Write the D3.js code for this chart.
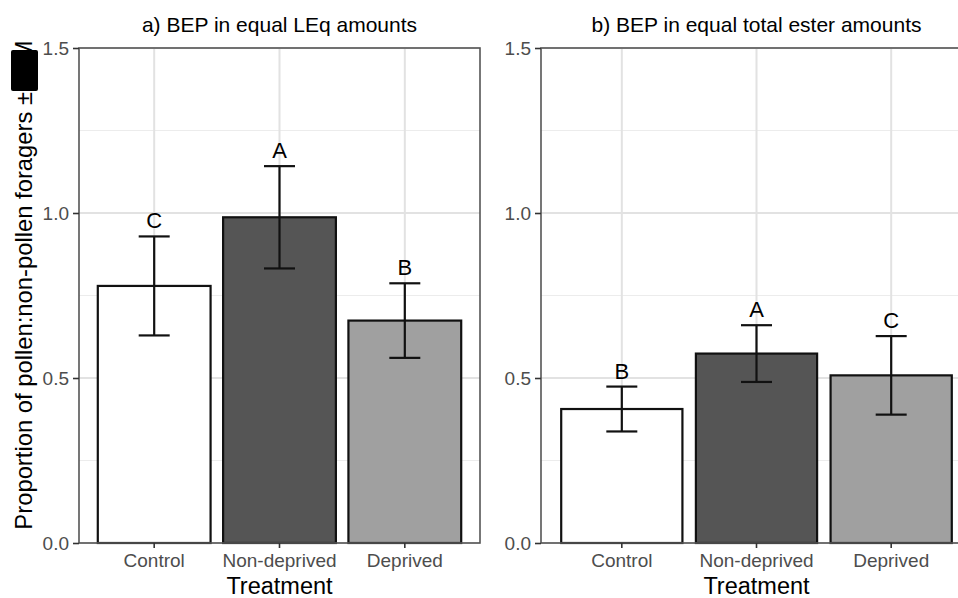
<!DOCTYPE html>
<html>
<head>
<meta charset="utf-8">
<script src="https://cdn.jsdelivr.net/npm/d3@7"></script>
<style>
  html, body { margin: 0; padding: 0; background: #fff; }
  svg { display: block; font-family: "Liberation Sans", Arial, Helvetica, sans-serif; }
</style>
</head>
<body>
<svg id="chart" width="958" height="598"></svg>
<script>
// Treatment groups and mean proportions (± SEM) for each panel
const categories = ["Control", "Non-deprived", "Deprived"];
const fills = ["#ffffff", "#555555", "#a0a0a0"];

const titleA = "a) BEP in equal LEq amounts";
const meanA = [0.779, 0.987, 0.674];
const semA = [0.150, 0.155, 0.113];
const lettersA = ["C", "A", "B"];

const titleB = "b) BEP in equal total ester amounts";
const meanB = [0.406, 0.574, 0.508];
const semB = [0.068, 0.086, 0.119];
const lettersB = ["B", "A", "C"];

const yMajor = [0, 0.5, 1.0, 1.5];
const yMinor = [0.25, 0.75, 1.25];

const svg = d3.select("#chart");
svg.append("rect").attr("width", 958).attr("height", 598).attr("fill", "#fff");

const plotTop = 48, plotBottom = 543;
const y = d3.scaleLinear().domain([0, 1.5]).range([plotBottom, plotTop]);

function panel(x0, x1, title, means, sems, letters) {
  const x = d3.scaleBand().domain(categories).range([x0, x1])
    .paddingInner(0.1).paddingOuter(0.15);
  const g = svg.append("g");
  const data = categories.map((c, i) => ({ c, m: means[i], s: sems[i], l: letters[i], f: fills[i] }));

  // grid
  g.selectAll(".ymin").data(yMinor).join("line")
    .attr("x1", x0).attr("x2", x1).attr("y1", d => y(d)).attr("y2", d => y(d))
    .attr("stroke", "#ececec").attr("stroke-width", 1);
  g.selectAll(".ymaj").data(yMajor).join("line")
    .attr("x1", x0).attr("x2", x1).attr("y1", d => y(d)).attr("y2", d => y(d))
    .attr("stroke", "#e2e2e2").attr("stroke-width", 2);
  g.selectAll(".xmaj").data(categories).join("line")
    .attr("x1", d => x(d) + x.bandwidth() / 2).attr("x2", d => x(d) + x.bandwidth() / 2)
    .attr("y1", plotTop).attr("y2", plotBottom)
    .attr("stroke", "#e2e2e2").attr("stroke-width", 2);

  // bars
  g.selectAll(".bar").data(data).join("rect")
    .attr("x", d => x(d.c)).attr("width", x.bandwidth())
    .attr("y", d => y(d.m)).attr("height", d => y(0) - y(d.m))
    .attr("fill", d => d.f).attr("stroke", "#111").attr("stroke-width", 2.2);

  // error bars
  const cap = 15.5;
  const eb = g.selectAll(".err").data(data).join("g")
    .attr("transform", d => `translate(${x(d.c) + x.bandwidth() / 2},0)`)
    .attr("stroke", "#111").attr("stroke-width", 2.2);
  eb.append("line").attr("x1", 0).attr("x2", 0)
    .attr("y1", d => y(d.m + d.s)).attr("y2", d => y(d.m - d.s));
  eb.append("line").attr("x1", -cap).attr("x2", cap)
    .attr("y1", d => y(d.m + d.s)).attr("y2", d => y(d.m + d.s));
  eb.append("line").attr("x1", -cap).attr("x2", cap)
    .attr("y1", d => y(d.m - d.s)).attr("y2", d => y(d.m - d.s));

  // significance letters
  g.selectAll(".lab").data(data).join("text")
    .attr("x", d => x(d.c) + x.bandwidth() / 2)
    .attr("y", d => y(d.m + d.s) - 8)
    .attr("text-anchor", "middle").attr("font-size", 22).attr("fill", "#000")
    .text(d => d.l);

  // panel border
  g.append("rect").attr("x", x0).attr("y", plotTop).attr("width", x1 - x0).attr("height", plotBottom - plotTop)
    .attr("fill", "none").attr("stroke", "#555").attr("stroke-width", 1.6);

  // axes
  const ax = g.append("g").attr("transform", `translate(0,${plotBottom})`)
    .call(d3.axisBottom(x).tickSize(5).tickPadding(6));
  ax.select(".domain").remove();
  ax.selectAll("line").attr("stroke", "#333").attr("stroke-width", 1.6);
  ax.selectAll("text").attr("font-size", 19).attr("fill", "#4d4d4d").attr("font-family", null);

  const ay = g.append("g").attr("transform", `translate(${x0},0)`)
    .call(d3.axisLeft(y).tickValues(yMajor).tickFormat(d3.format(".1f")).tickSize(6).tickPadding(4));
  ay.select(".domain").remove();
  ay.selectAll("line").attr("stroke", "#333").attr("stroke-width", 1.6);
  ay.selectAll("text").attr("font-size", 19).attr("fill", "#4d4d4d").attr("font-family", null);

  // titles
  const cx = (x0 + x1) / 2;
  g.append("text").attr("x", cx).attr("y", 32).attr("text-anchor", "middle")
    .attr("font-size", 21).attr("fill", "#000").text(title);
  g.append("text").attr("x", cx).attr("y", 594).attr("text-anchor", "middle")
    .attr("font-size", 23.5).attr("fill", "#000").text("Treatment");
}

panel(79, 480, titleA, meanA, semA, lettersA);
panel(541, 972, titleB, meanB, semB, lettersB);

// shared y-axis title
svg.append("text")
  .attr("transform", "translate(32,285) rotate(-90)")
  .attr("text-anchor", "middle").attr("font-size", 23.8).attr("fill", "#000")
  .text("Proportion of pollen:non-pollen foragers ±SEM");
svg.append("rect").attr("x", 11).attr("y", 50).attr("width", 27).attr("height", 41)
  .attr("rx", 2).attr("fill", "#000");
</script>
</body>
</html>
